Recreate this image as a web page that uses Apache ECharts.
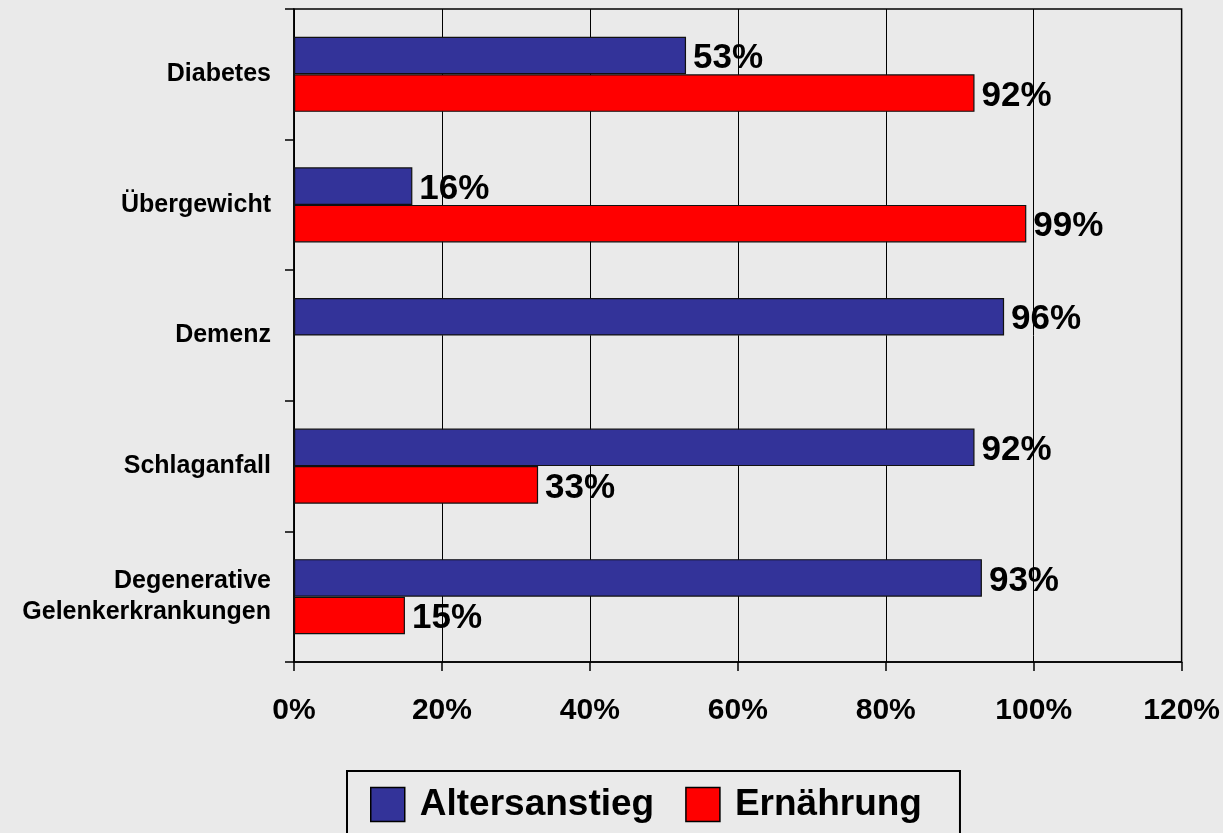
<!DOCTYPE html>
<html><head><meta charset="utf-8">
<script src="https://cdn.jsdelivr.net/npm/echarts@6/dist/echarts.min.js"></script>
<style>html,body{margin:0;padding:0;background:#EAEAEA}#c{width:1223px;height:833px}</style>
</head><body><div id="c"></div>
<script>
const categories = ['Diabetes', 'Übergewicht', 'Demenz', 'Schlaganfall', 'Degenerative\nGelenkerkrankungen'];
const altersanstieg = [53, 16, 96, 92, 93];
const ernaehrung = [92, 99, null, 33, 15];
const xTicks = [0, 20, 40, 60, 80, 100, 120];

const font = '"Liberation Sans", Arial, sans-serif';
const chart = echarts.init(document.getElementById('c'), null, {renderer: 'canvas'});
const valLabel = {
  show: true, position: 'right', distance: 7, offset: [0, 3],
  formatter: p => p.value + '%',
  fontFamily: font, fontWeight: 'bold', fontSize: 35, color: '#000'
};
chart.setOption({
  backgroundColor: '#EAEAEA',
  animation: false,
  grid: {left: 294, right: 41, top: 9, bottom: 171, show: true, borderColor: '#000', borderWidth: 1.5, backgroundColor: 'transparent'},
  xAxis: {
    type: 'value', min: xTicks[0], max: xTicks[xTicks.length - 1], interval: 20,
    axisLine: {show: true, lineStyle: {color: '#000', width: 1.5}},
    axisTick: {show: true, length: 9, lineStyle: {color: '#000', width: 1.5}},
    splitLine: {show: true, lineStyle: {color: '#000', width: 1}},
    axisLabel: {formatter: '{value}%', margin: 34, fontFamily: font, fontWeight: 'bold', fontSize: 30, color: '#000'}
  },
  yAxis: {
    type: 'category', inverse: true, data: categories,
    axisLine: {show: true, lineStyle: {color: '#000', width: 1.5}},
    axisTick: {show: true, length: 9, lineStyle: {color: '#000', width: 1.5}},
    axisLabel: {margin: 23, fontFamily: font, fontWeight: 'bold', fontSize: 25, color: '#000', lineHeight: 31, align: 'right'}
  },
  legend: {
    left: 347, top: 771, orient: 'horizontal',
    padding: [15, 38, 30, 23], itemGap: 31,
    borderColor: '#000', borderWidth: 2, backgroundColor: '#EAEAEA',
    itemWidth: 34, itemHeight: 34, icon: 'rect',
    textStyle: {fontFamily: font, fontWeight: 'bold', fontSize: 37, color: '#000', padding: [0, 0, 0, 10]},
    data: [
      {name: 'Altersanstieg', itemStyle: {borderColor: '#000', borderWidth: 1.5}},
      {name: 'Ernährung', itemStyle: {borderColor: '#000', borderWidth: 1.5}}
    ]
  },
  series: [
    {name: 'Altersanstieg', type: 'bar', data: altersanstieg, barGap: '0%', barCategoryGap: '42.5%',
     itemStyle: {color: '#333399', borderColor: '#111', borderWidth: 1.2}, label: valLabel},
    {name: 'Ernährung', type: 'bar', data: ernaehrung, barGap: '0%', barCategoryGap: '42.5%',
     itemStyle: {color: '#FF0000', borderColor: '#111', borderWidth: 1.2}, label: valLabel}
  ]
});
</script></body></html>
